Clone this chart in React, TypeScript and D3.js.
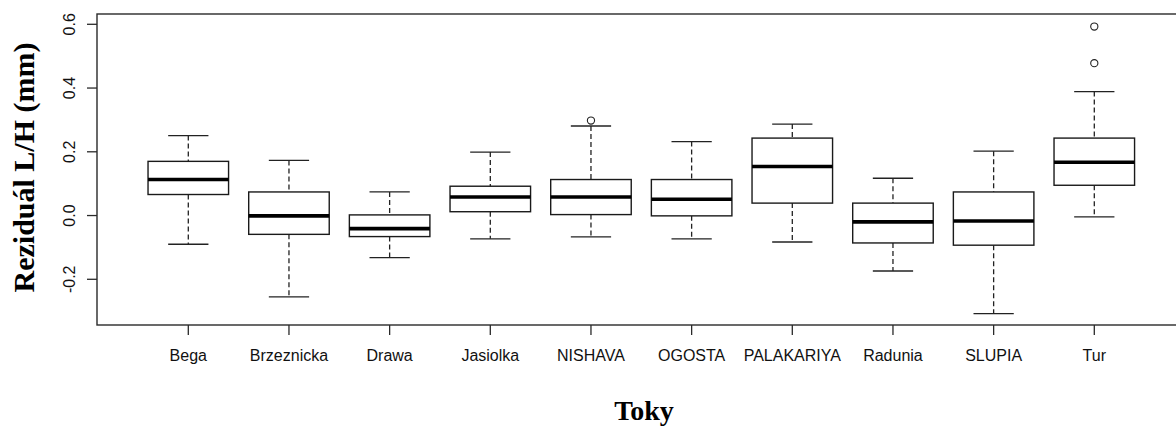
import React from "react";
import * as d3 from "d3";

const categories = ["Bega", "Brzeznicka", "Drawa", "Jasiolka", "NISHAVA", "OGOSTA", "PALAKARIYA", "Radunia", "SLUPIA", "Tur"];
const lowerWhisker = [-0.090, -0.255, -0.132, -0.073, -0.067, -0.073, -0.083, -0.174, -0.308, -0.004];
const q1Values = [0.066, -0.059, -0.066, 0.012, 0.003, -0.001, 0.039, -0.086, -0.093, 0.095];
const medianValues = [0.113, -0.001, -0.041, 0.058, 0.058, 0.051, 0.154, -0.020, -0.017, 0.167];
const q3Values = [0.170, 0.074, 0.002, 0.092, 0.113, 0.113, 0.243, 0.039, 0.074, 0.243];
const upperWhisker = [0.251, 0.173, 0.074, 0.199, 0.281, 0.232, 0.287, 0.117, 0.202, 0.389];
const outliers: [string, number][] = [["NISHAVA", 0.298], ["Tur", 0.478], ["Tur", 0.593]];
const yTicks = [-0.2, 0.0, 0.2, 0.4, 0.6];

export default function App() {
  const W = 1176, H = 428;
  const left = 97, right = 1191, top = 14, bottom = 325;
  const x = d3.scalePoint<string>().domain(categories).range([188.3, 1094.3]);
  const step = x.step();
  const y = d3.scaleLinear().domain([-0.3434, 0.6323]).range([bottom, top]);
  const bw = step * 0.8;
  const cw = bw * 0.5;
  const sans = "Arial, 'Liberation Sans', sans-serif";
  const serif = "'Times New Roman', 'Liberation Serif', serif";

  return (
    <svg width={W} height={H} style={{ position: "absolute", left: 0, top: 0, background: "#fff" }}>
      <rect x={left} y={top} width={right - left} height={bottom - top} fill="none" stroke="#2a2a2a" strokeWidth={1.4} />
      {categories.map((c, i) => {
        const cx = x(c)!;
        return (
          <g key={c}>
            <line x1={cx} x2={cx} y1={y(upperWhisker[i])} y2={y(q3Values[i])} stroke="#222" strokeWidth={1.3} strokeDasharray="5,3" />
            <line x1={cx} x2={cx} y1={y(q1Values[i])} y2={y(lowerWhisker[i])} stroke="#222" strokeWidth={1.3} strokeDasharray="5,3" />
            <line x1={cx - cw / 2} x2={cx + cw / 2} y1={y(upperWhisker[i])} y2={y(upperWhisker[i])} stroke="#222" strokeWidth={1.3} />
            <line x1={cx - cw / 2} x2={cx + cw / 2} y1={y(lowerWhisker[i])} y2={y(lowerWhisker[i])} stroke="#222" strokeWidth={1.3} />
            <rect x={cx - bw / 2} y={y(q3Values[i])} width={bw} height={y(q1Values[i]) - y(q3Values[i])} fill="#fff" stroke="#1a1a1a" strokeWidth={1.4} />
            <line x1={cx - bw / 2} x2={cx + bw / 2} y1={y(medianValues[i])} y2={y(medianValues[i])} stroke="#000" strokeWidth={3.6} />
            <line x1={cx} x2={cx} y1={bottom} y2={bottom + 10} stroke="#2a2a2a" strokeWidth={1.3} />
            <text x={cx} y={361} textAnchor="middle" fontFamily={sans} fontSize={16} fill="#111">{c}</text>
          </g>
        );
      })}
      {outliers.map(([c, v], i) => (
        <circle key={i} cx={x(c)!} cy={y(v)} r={3.6} fill="#fff" stroke="#222" strokeWidth={1.1} />
      ))}
      {yTicks.map((t) => (
        <g key={t}>
          <line x1={left - 10} x2={left} y1={y(t)} y2={y(t)} stroke="#2a2a2a" strokeWidth={1.3} />
          <text transform={`translate(75,${y(t)}) rotate(-90)`} textAnchor="middle" fontFamily={sans} fontSize={16} fill="#111">{t.toFixed(1)}</text>
        </g>
      ))}
      <text transform={`translate(34,${(top + bottom) / 2 - 2}) rotate(-90)`} textAnchor="middle" fontFamily={serif} fontWeight="bold" fontSize={30} fill="#000">Reziduál L/H (mm)</text>
      <text x={644} y={420} textAnchor="middle" fontFamily={serif} fontWeight="bold" fontSize={28} fill="#000">Toky</text>
    </svg>
  );
}
